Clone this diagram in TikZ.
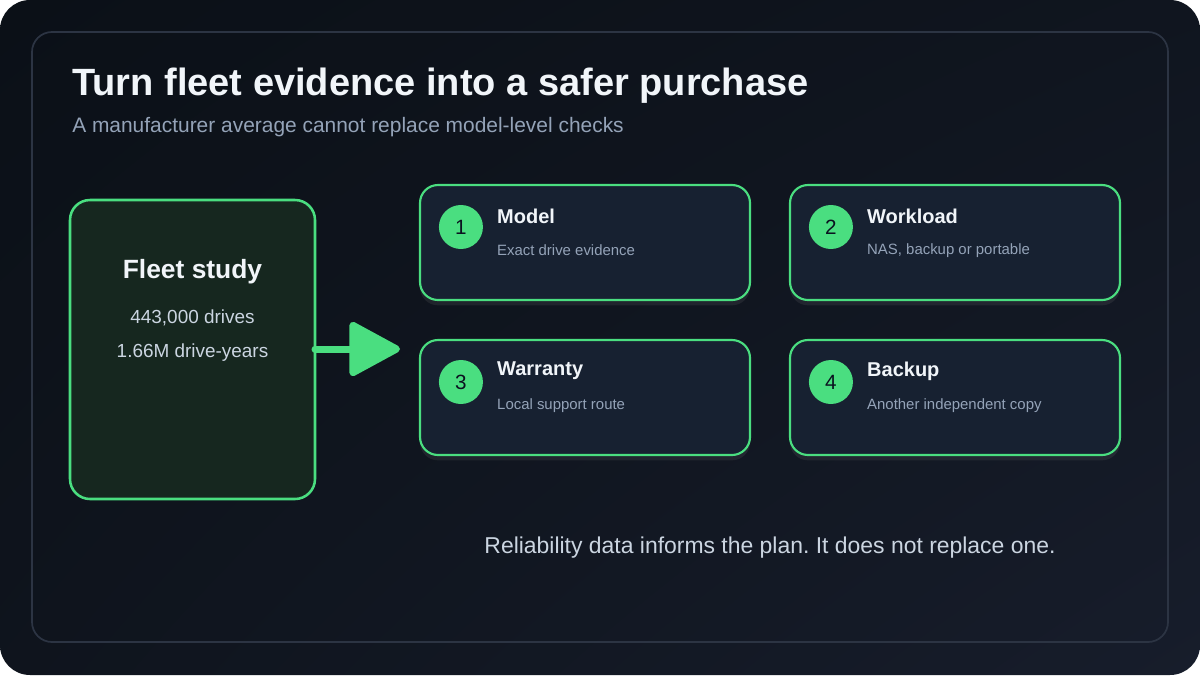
\documentclass[tikz,border=0pt]{standalone}
\usepackage{fontspec}
\setmainfont{Liberation Sans}
\frenchspacing
\usetikzlibrary{calc,arrows.meta,shadows,shadings}
\definecolor{bgA}{HTML}{0B1017}
\definecolor{bgB}{HTML}{171D2B}
\definecolor{panelline}{HTML}{2C3443}
\definecolor{grn}{HTML}{4ADE80}
\definecolor{fleetfill}{HTML}{16271F}
\definecolor{cardfill}{HTML}{172131}
\definecolor{txtw}{HTML}{F1F5F9}
\definecolor{txtg}{HTML}{94A3B8}
\definecolor{txtc}{HTML}{CBD5E1}
\definecolor{numtxt}{HTML}{0B1220}
\begin{document}
\begin{tikzpicture}[x=0.75pt,y=-0.75pt,
  cardbox/.style={draw=grn, line width=1.6pt, fill=cardfill, rounded corners=13.5pt,
    minimum width=247.5pt, minimum height=86.25pt, inner sep=0pt,
    drop shadow={opacity=0.15, shadow xshift=0pt, shadow yshift=-4pt}},
  fleetbox/.style={draw=grn, line width=1.9pt, fill=fleetfill, rounded corners=15pt,
    minimum width=183.75pt, minimum height=224.25pt, inner sep=0pt},
  numdot/.style={circle, fill=grn, minimum size=33pt, inner sep=0pt, text=numtxt,
    font=\fontsize{15.5}{17}\selectfont},
  cardtitle/.style={anchor=west, inner sep=0pt, text=txtw, font=\bfseries\fontsize{15}{18}\selectfont},
  cardsub/.style={anchor=west, inner sep=0pt, text=txtg, font=\fontsize{11.2}{13}\selectfont},
  flow/.style={draw=grn, line width=5.25pt, line cap=round,
    -{Triangle[length=41pt 0, width=43pt 0, round]}}
]
\useasboundingbox (0,0) rectangle (1200,675);
\fill[white] (0,0) rectangle (1200,675);
\shade[rounded corners=22.5pt, upper left=bgA, upper right=bgA!60!bgB, lower left=bgA!70!bgB, lower right=bgB]
  (0,0) rectangle (1200,675);
\draw[panelline, line width=1.3pt, rounded corners=15pt] (32,32) rectangle (1168,642);

\node[anchor=base west, inner sep=0pt, text=txtw, font=\bfseries\fontsize{28.5}{32}\selectfont]
  (title) at (72,95) {Turn fleet evidence into a safer purchase};
\node[anchor=base west, inner sep=0pt, text=txtg, font=\fontsize{15.7}{18}\selectfont]
  (subtitle) at (72,132) {A manufacturer average cannot replace model-level checks};

\node[fleetbox] (fleet) at (192.5,349.5) {};
\node[text=txtw, font=\bfseries\fontsize{19.8}{23}\selectfont] (fleettitle) at (192.5,272) {Fleet study};
\node[text=txtc, font=\fontsize{14.2}{17}\selectfont] (fleetl1) at (192.5,318) {443,000 drives};
\node[text=txtc, font=\fontsize{14.2}{17}\selectfont] (fleetl2) at (192.5,353) {1.66M drive-years};

\coordinate (flowend) at (400,349);
\draw[flow] (315,349) -- (flowend);

\foreach \n/\cx/\cy/\t/\s in {1/585/242.5/Model/Exact drive evidence,
                              2/955/242.5/Workload/{NAS, backup or portable},
                              3/585/397.5/Warranty/Local support route,
                              4/955/397.5/Backup/Another independent copy}{
  \node[cardbox] (card\n) at (\cx,\cy) {};
  \node[numdot] (num\n) at ($(card\n.west)+(42,-15.5)$) {\n};
  \node[cardtitle] (ct\n) at ($(card\n.west)+(78,-26.5)$) {\t};
  \node[cardsub] (cs\n) at ($(card\n.west)+(78,8)$) {\s};
}

\node[text=txtc, font=\fontsize{17.2}{20}\selectfont] (footer) at (770,548)
  {Reliability data informs the plan. It does not replace one.};
\end{tikzpicture}
\end{document}
